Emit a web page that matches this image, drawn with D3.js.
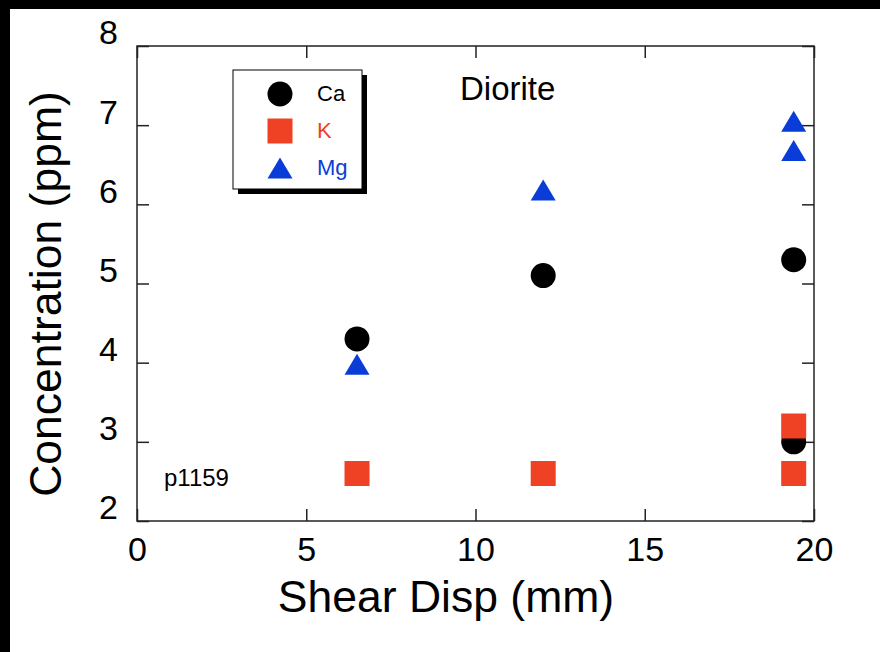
<!DOCTYPE html>
<html>
<head>
<meta charset="utf-8">
<script src="https://cdn.jsdelivr.net/npm/d3@7"></script>
<style>
  body { margin: 0; background: #000; }
  text { font-family: "Liberation Sans", Arial, Helvetica, sans-serif; }
</style>
</head>
<body>
<div id="chart"></div>
<script>
// data
var caX = [6.5, 12, 19.4, 19.4];
var caY = [4.3, 5.1, 5.3, 3.0];
var kX = [6.5, 12, 19.4, 19.4];
var kY = [2.6, 2.6, 3.2, 2.6];
var mgX = [6.5, 12, 19.4, 19.4];
var mgY = [3.98, 6.18, 7.05, 6.68];

var xTicks = [0, 5, 10, 15, 20];
var yTicks = [2, 3, 4, 5, 6, 7, 8];

var series = [
  { name: "Ca", xs: caX, ys: caY, color: "#000000", shape: "circle" },
  { name: "K", xs: kX, ys: kY, color: "#ef4123", shape: "square" },
  { name: "Mg", xs: mgX, ys: mgY, color: "#0a3cd8", shape: "triangle" }
];

var width = 880, height = 652;
var margin = { top: 46, right: 66, bottom: 131, left: 137 };

var svg = d3.select("#chart").append("svg")
  .attr("width", width)
  .attr("height", height);

// black frame round the picture
svg.append("rect").attr("width", width).attr("height", height).attr("fill", "#000");
svg.append("rect").attr("x", 10).attr("y", 9)
  .attr("width", width - 10).attr("height", height - 9).attr("fill", "#fff");

var x = d3.scaleLinear().domain([0, 20]).range([margin.left, width - margin.right]);
var y = d3.scaleLinear().domain([2, 8]).range([height - margin.bottom, margin.top]);

// marker shapes, centred on their box
function marker(sel, shape, color) {
  if (shape == "circle") {
    sel.append("circle").attr("r", 12.5).attr("fill", color);
  } else if (shape == "square") {
    sel.append("rect").attr("x", -12.5).attr("y", -12.5)
      .attr("width", 25).attr("height", 25).attr("fill", color);
  } else {
    sel.append("path").attr("d", "M0,-10.5L12.5,10.5L-12.5,10.5Z").attr("fill", color);
  }
}

// axes: inward ticks on all four sides
var xAxis = svg.append("g")
  .attr("transform", "translate(0," + y(2) + ")")
  .call(d3.axisBottom(x).tickValues(xTicks).tickFormat(d3.format("d"))
    .tickSizeInner(-12).tickSizeOuter(0).tickPadding(16));
var yAxis = svg.append("g")
  .attr("transform", "translate(" + x(0) + ",0)")
  .call(d3.axisLeft(y).tickValues(yTicks).tickFormat(d3.format("d"))
    .tickSizeInner(-12).tickSizeOuter(0).tickPadding(19));
svg.append("g")
  .attr("transform", "translate(0," + y(8) + ")")
  .call(d3.axisTop(x).tickValues(xTicks).tickSizeInner(-12).tickSizeOuter(0).tickFormat(""));
svg.append("g")
  .attr("transform", "translate(" + x(20) + ",0)")
  .call(d3.axisRight(y).tickValues(yTicks).tickSizeInner(-12).tickSizeOuter(0).tickFormat(""));

svg.selectAll(".domain").remove();
svg.selectAll(".tick line").attr("stroke", "#222").attr("stroke-width", 1.5);
xAxis.selectAll("text").attr("font-size", 34).attr("fill", "#000");
yAxis.selectAll("text").attr("font-size", 34).attr("fill", "#000").attr("dy", "-0.06em");

svg.append("rect")
  .attr("x", x(0)).attr("y", y(8))
  .attr("width", x(20) - x(0)).attr("height", y(2) - y(8))
  .attr("fill", "none").attr("stroke", "#222").attr("stroke-width", 1.5);

// axis titles
svg.append("text")
  .attr("x", 446).attr("y", 612)
  .attr("text-anchor", "middle").attr("font-size", 44.5)
  .text("Shear Disp (mm)");
svg.append("text")
  .attr("transform", "translate(61,294) rotate(-90)")
  .attr("text-anchor", "middle").attr("font-size", 44.5)
  .text("Concentration (ppm)");

svg.append("text").attr("x", 460).attr("y", 100).attr("font-size", 33).text("Diorite");
svg.append("text").attr("x", 164).attr("y", 486).attr("font-size", 24).text("p1159");

// points
series.forEach(function(s) {
  s.xs.forEach(function(v, i) {
    var g = svg.append("g").attr("transform", "translate(" + x(v) + "," + y(s.ys[i]) + ")");
    marker(g, s.shape, s.color);
  });
});

// legend with drop shadow
var lg = svg.append("g").attr("transform", "translate(233,70)");
lg.append("rect").attr("x", 5).attr("y", 5).attr("width", 129).attr("height", 119).attr("fill", "#000");
lg.append("rect").attr("width", 129).attr("height", 119)
  .attr("fill", "#fff").attr("stroke", "#000").attr("stroke-width", 1);

series.forEach(function(s, i) {
  var row = lg.append("g").attr("transform", "translate(47," + (24 + i * 37) + ")");
  marker(row, s.shape, s.color);
  row.append("text").attr("x", 37).attr("y", 7).attr("font-size", 22)
    .attr("fill", s.color).text(s.name);
});
</script>
</body>
</html>
